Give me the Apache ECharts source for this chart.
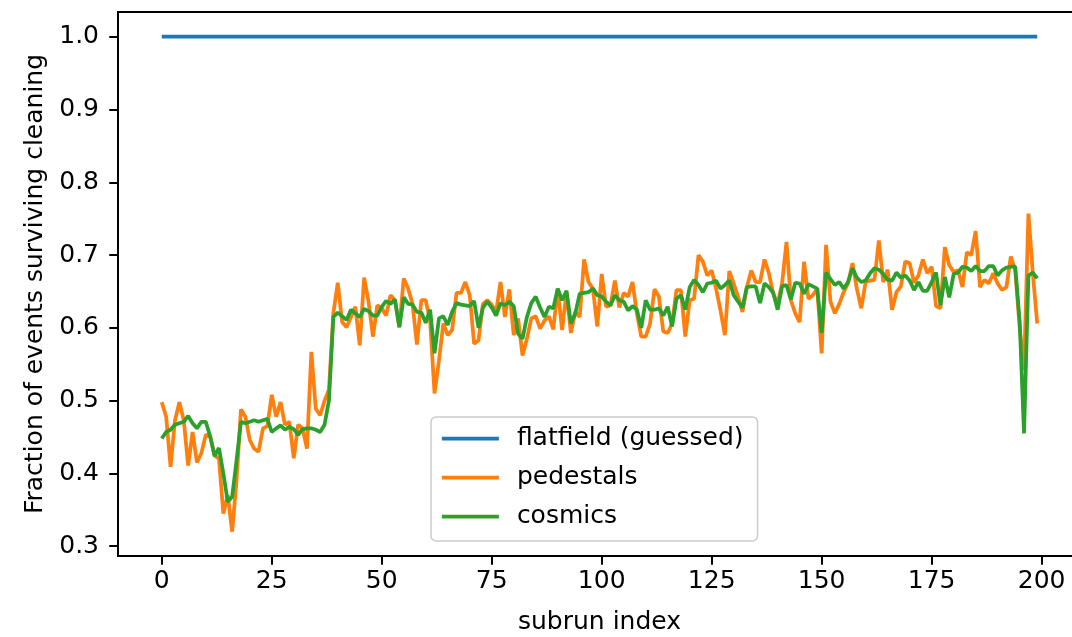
<!DOCTYPE html>
<html>
<head>
<meta charset="utf-8">
<script src="https://cdn.jsdelivr.net/npm/echarts@6/dist/echarts.min.js"></script>
<style>html,body{margin:0;padding:0;background:#fff}#c{width:1072px;height:637px}</style>
</head>
<body>
<div id="c"></div>
<script>
const seriesNames = ['flatfield (guessed)', 'pedestals', 'cosmics'];
const xTicks = [0, 25, 50, 75, 100, 125, 150, 175, 200];
const yTicks = [0.3, 0.4, 0.5, 0.6, 0.7, 0.8, 0.9, 1.0];
const flatfield = new Array(200).fill(1.0);
const pedestals = [
0.498,0.478,0.409,0.473,0.498,0.473,0.411,0.457,0.415,0.428,
0.453,0.451,0.425,0.420,0.345,0.370,0.320,0.391,0.488,0.478,
0.446,0.434,0.430,0.462,0.465,0.508,0.478,0.498,0.467,0.471,
0.421,0.467,0.462,0.434,0.567,0.489,0.480,0.500,0.515,0.620,
0.662,0.608,0.601,0.615,0.629,0.576,0.669,0.636,0.588,0.631,
0.627,0.617,0.645,0.638,0.601,0.668,0.654,0.633,0.577,0.638,
0.638,0.610,0.510,0.555,0.606,0.590,0.597,0.648,0.648,0.663,
0.645,0.578,0.583,0.633,0.638,0.632,0.622,0.663,0.615,0.653,
0.590,0.613,0.562,0.585,0.613,0.616,0.599,0.610,0.616,0.598,
0.654,0.597,0.649,0.593,0.622,0.615,0.694,0.663,0.654,0.602,
0.674,0.629,0.631,0.665,0.628,0.648,0.643,0.663,0.620,0.588,
0.588,0.606,0.653,0.643,0.595,0.593,0.606,0.652,0.652,0.588,
0.638,0.640,0.700,0.691,0.672,0.679,0.654,0.624,0.590,0.678,
0.661,0.643,0.622,0.656,0.679,0.663,0.663,0.694,0.675,0.647,
0.633,0.661,0.718,0.638,0.620,0.608,0.691,0.640,0.645,0.654,
0.565,0.714,0.636,0.620,0.633,0.649,0.661,0.689,0.654,0.627,
0.663,0.665,0.666,0.720,0.663,0.680,0.625,0.649,0.657,0.691,
0.689,0.662,0.672,0.694,0.675,0.684,0.630,0.627,0.711,0.686,
0.677,0.679,0.656,0.704,0.700,0.733,0.656,0.666,0.661,0.675,
0.661,0.652,0.656,0.698,0.679,0.601,0.542,0.757,0.675,0.606
];
const cosmics = [
0.448,0.457,0.460,0.467,0.469,0.471,0.479,0.469,0.462,0.471,
0.471,0.451,0.424,0.435,0.400,0.361,0.368,0.418,0.471,0.469,
0.471,0.473,0.471,0.473,0.475,0.457,0.462,0.466,0.460,0.464,
0.461,0.453,0.461,0.462,0.462,0.460,0.457,0.467,0.500,0.615,
0.621,0.616,0.611,0.625,0.620,0.615,0.626,0.623,0.617,0.617,
0.629,0.637,0.633,0.639,0.601,0.642,0.633,0.632,0.622,0.621,
0.607,0.625,0.565,0.613,0.616,0.604,0.622,0.634,0.632,0.631,
0.630,0.637,0.600,0.628,0.636,0.628,0.617,0.634,0.631,0.636,
0.630,0.592,0.585,0.615,0.634,0.643,0.628,0.615,0.629,0.627,
0.654,0.638,0.651,0.606,0.620,0.647,0.648,0.649,0.654,0.645,
0.643,0.636,0.631,0.645,0.638,0.636,0.624,0.630,0.625,0.600,
0.638,0.625,0.625,0.627,0.617,0.629,0.602,0.640,0.645,0.625,
0.656,0.666,0.659,0.649,0.661,0.662,0.665,0.654,0.659,0.665,
0.645,0.636,0.628,0.656,0.657,0.657,0.634,0.661,0.656,0.648,
0.625,0.657,0.659,0.639,0.662,0.661,0.647,0.660,0.657,0.654,
0.593,0.676,0.667,0.659,0.663,0.654,0.663,0.682,0.669,0.663,
0.665,0.675,0.682,0.680,0.674,0.666,0.665,0.676,0.669,0.672,
0.665,0.652,0.663,0.651,0.651,0.663,0.676,0.631,0.670,0.642,
0.674,0.676,0.684,0.683,0.678,0.685,0.678,0.678,0.685,0.685,
0.672,0.679,0.683,0.684,0.684,0.610,0.455,0.672,0.676,0.668
];

const FONT = 'DejaVu Sans';
const colors = ['#1f77b4', '#ff7f0e', '#2ca02c'];
const toPairs = arr => arr.map((v, i) => [i, v]);

const chart = echarts.init(document.getElementById('c'), null, {renderer: 'canvas'});
chart.setOption({
  animation: false,
  backgroundColor: '#ffffff',
  grid: {left: 118, top: 12, width: 963, bottom: 81, outerBoundsMode: 'none', containLabel: false,
    show: true, borderColor: '#000', borderWidth: 2, backgroundColor: 'transparent'},
  legend: {
    orient: 'vertical', left: 431, top: 417,
    data: seriesNames,
    itemWidth: 57, itemHeight: 25, itemGap: 14,
    padding: [9, 14, 12, 9],
    borderColor: '#cccccc', borderWidth: 1.5, borderRadius: 5,
    backgroundColor: 'rgba(255,255,255,0.8)',
    itemStyle: {opacity: 0},
    lineStyle: {width: 3.75},
    textStyle: {fontFamily: FONT, fontSize: 25, color: '#000', padding: [0, 0, 0, 13]}
  },
  xAxis: {
    type: 'value', min: -9.95, max: 208.95,
    name: 'subrun index', nameLocation: 'middle', nameGap: 54,
    nameTextStyle: {fontFamily: FONT, fontSize: 25, color: '#000'},
    axisLine: {show: false, onZero: false},
    splitLine: {show: false},
    axisTick: {show: true, customValues: xTicks, length: 8.75, lineStyle: {color: '#000', width: 2}},
    axisLabel: {customValues: xTicks, fontFamily: FONT, fontSize: 25, color: '#000', margin: 13}
  },
  yAxis: {
    type: 'value', min: 0.2866, max: 1.034,
    name: 'Fraction of events surviving cleaning', nameLocation: 'middle', nameGap: 70,
    nameTextStyle: {fontFamily: FONT, fontSize: 25, color: '#000'},
    axisLine: {show: false, onZero: false},
    splitLine: {show: false},
    axisTick: {show: true, customValues: yTicks, length: 8.75, lineStyle: {color: '#000', width: 2}},
    axisLabel: {customValues: yTicks, fontFamily: FONT, fontSize: 25, color: '#000', margin: 19,
      formatter: v => v.toFixed(1)}
  },
  series: [
    {name: seriesNames[0], type: 'line', data: toPairs(flatfield), symbol: 'none', lineStyle: {color: colors[0], width: 3.75}, itemStyle: {color: colors[0]}},
    {name: seriesNames[1], type: 'line', data: toPairs(pedestals), symbol: 'none', lineStyle: {color: colors[1], width: 3.75}, itemStyle: {color: colors[1]}},
    {name: seriesNames[2], type: 'line', data: toPairs(cosmics), symbol: 'none', lineStyle: {color: colors[2], width: 3.75}, itemStyle: {color: colors[2]}}
  ]
});
</script>
</body>
</html>
